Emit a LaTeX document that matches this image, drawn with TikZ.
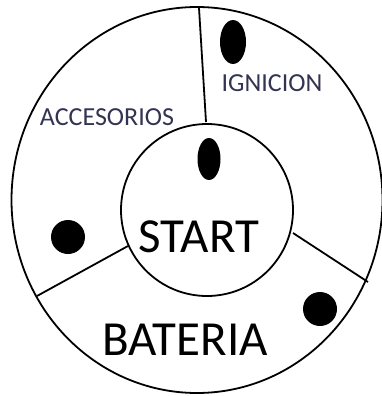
\documentclass[tikz,border=0pt]{standalone}
\usepackage{fontspec}
\setmainfont{Carlito}
\usetikzlibrary{shapes.geometric}
\definecolor{labelcol}{rgb}{0.2,0.2,0.32}
\tikzset{
  ring/.style={draw=black, line width=1.8pt, ellipse, inner sep=0pt},
  divider/.style={draw=black, line width=1.8pt},
  blob/.style={fill=black, draw=none, ellipse, inner sep=0pt},
  small label/.style={font=\fontsize{26}{26}\selectfont, text=labelcol, inner sep=0pt},
  big label/.style={font=\fontsize{49}{49}\selectfont, text=black, inner sep=0pt}
}
\begin{document}
\begin{tikzpicture}[x=1pt,y=-1pt]
\useasboundingbox (0,0) rectangle (382,396);
% outer ring
\node[ring, minimum width=371pt, minimum height=386pt] (outer) at (197,200) {};
% inner START circle
\node[ring, circle, minimum size=172pt] (inner) at (207,210) {};
% dividers
\coordinate (topin) at (206,122);
\coordinate (topout) at (199,8);
\coordinate (leftin) at (128,246);
\coordinate (leftout) at (37,296);
\coordinate (rightin) at (293,233);
\coordinate (rightout) at (368,282);
\draw[divider] (topin) -- (topout);
\draw[divider] (leftin) -- (leftout);
\draw[divider] (rightin) -- (rightout);
% contact blobs
\node[blob, minimum width=26pt, minimum height=44pt] (ignblob) at (233,42) {};
\node[blob, minimum width=23pt, minimum height=42pt] (startblob) at (209,159) {};
\node[blob, circle, minimum size=34pt] (accblob) at (68,237) {};
\node[blob, circle, minimum size=34pt] (batblob) at (320,309) {};
% labels
\node[small label, anchor=base] (ign) at (272,92) {IGNICION};
\node[small label, anchor=base] (acc) at (107,125) {ACCESORIOS};
\node[big label, anchor=base] (start) at (199,252) {START};
\node[big label, anchor=base] (bat) at (185,355) {BATERIA};
\end{tikzpicture}
\end{document}
